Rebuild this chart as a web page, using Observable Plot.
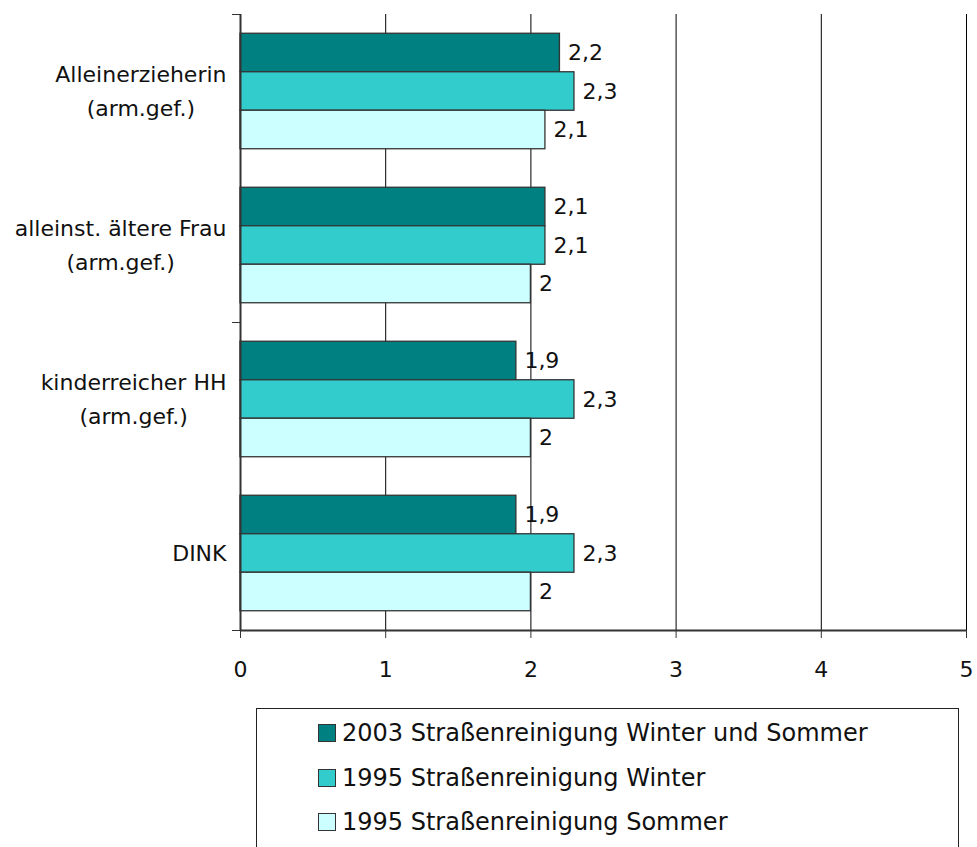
<!DOCTYPE html>
<html>
<head>
<meta charset="utf-8">
<script src="https://cdn.jsdelivr.net/npm/d3@7"></script>
<script src="https://cdn.jsdelivr.net/npm/@observablehq/plot@0.6"></script>
<style>
  body { margin: 0; background: #fff; font-family: "DejaVu Sans", sans-serif; }
  #legend {
    margin-left: 256px; margin-top: 8px; width: 703px; height: 150px;
    border: 1px solid #222; box-sizing: border-box; padding-top: 2px;
  }
  .item { display: flex; align-items: center; height: 44.5px; margin-left: 61px; font-size: 24px; color: #111; }
  .sw { width: 18px; height: 18px; border: 1px solid #333; margin-right: 6px; box-sizing: border-box; }
</style>
</head>
<body>
<div id="chart"></div>
<div id="legend"></div>
<script>
const categories = ["Alleinerzieherin\n(arm.gef.)", "alleinst. ältere Frau\n(arm.gef.)", "kinderreicher HH\n(arm.gef.)", "DINK"];
const seriesNames = ["2003 Straßenreinigung Winter und Sommer", "1995 Straßenreinigung Winter", "1995 Straßenreinigung Sommer"];
const seriesColors = ["#008080", "#33CCCC", "#CCFFFF"];
const values2003 = [2.2, 2.1, 1.9, 1.9];
const values1995Winter = [2.3, 2.1, 2.3, 2.3];
const values1995Sommer = [2.1, 2.0, 2.0, 2.0];
const xTicks = [0, 1, 2, 3, 4, 5];

const seriesValues = [values2003, values1995Winter, values1995Sommer];
const rows = [];
categories.forEach((c, ci) => {
  seriesValues.forEach((vals, si) => {
    const y1 = ci + 0.125 + si * 0.25;
    rows.push({cat: c, ci, si, series: seriesNames[si], value: vals[ci], y1, y2: y1 + 0.25, ym: y1 + 0.125});
  });
});

const fontFamily = "DejaVu Sans";
const fontSize = 22;
const ctx = document.createElement("canvas").getContext("2d");
ctx.font = `${fontSize}px "${fontFamily}"`;
const catRows = categories.map((c, ci) => {
  const w = Math.max(...c.split("\n").map(l => ctx.measureText(l).width));
  return {label: c, y: ci + 0.5, w};
});

const chart = Plot.plot({
  width: 977,
  height: 700,
  marginLeft: 240,
  marginRight: 11,
  marginTop: 14,
  marginBottom: 70,
  style: {fontFamily: `"${fontFamily}", sans-serif`, fontSize: fontSize + "px", color: "#111", background: "#fff"},
  x: {domain: [0, 5], label: null},
  y: {domain: [0, 4], reverse: true, label: null},
  color: {domain: seriesNames, range: seriesColors},
  marks: [
    Plot.ruleX(xTicks.filter(d => d > 0), {stroke: "#000", strokeWidth: 1, strokeOpacity: 1}),
    Plot.rectX(rows, {x1: 0, x2: "value", y1: "y1", y2: "y2", fill: "series", stroke: "#333", strokeWidth: 1.3}),
    Plot.ruleX([0], {stroke: "#333", strokeWidth: 2}),
    Plot.ruleY([4], {stroke: "#333", strokeWidth: 2}),
    Plot.axisX({ticks: xTicks, tickSize: 8, tickPadding: 23, tickFormat: d => String(d), stroke: "#333", fill: "#111", fontSize: fontSize, label: null}),
    Plot.axisY({ticks: [0, 2, 4], tickSize: 8, tickFormat: () => "", stroke: "#333", label: null}),
    Plot.text(rows, {x: "value", y: "ym", text: d => String(d.value).replace(".", ","), textAnchor: "start", dx: 8, fill: "#111", fontSize: fontSize}),
    ...catRows.map(r => Plot.text([r], {x: 0, y: "y", text: "label", textAnchor: "middle", dx: -(14 + r.w / 2), dy: -3, lineHeight: 1.55, fill: "#111", fontSize: fontSize}))
  ]
});
document.getElementById("chart").appendChild(chart);
</script>
<script>
const legend = document.getElementById("legend");
seriesNames.forEach((n, i) => {
  const item = document.createElement("div");
  item.className = "item";
  const sw = document.createElement("div");
  sw.className = "sw";
  sw.style.background = seriesColors[i];
  const t = document.createElement("span");
  t.textContent = n;
  item.appendChild(sw);
  item.appendChild(t);
  legend.appendChild(item);
});
</script>
</body>
</html>
